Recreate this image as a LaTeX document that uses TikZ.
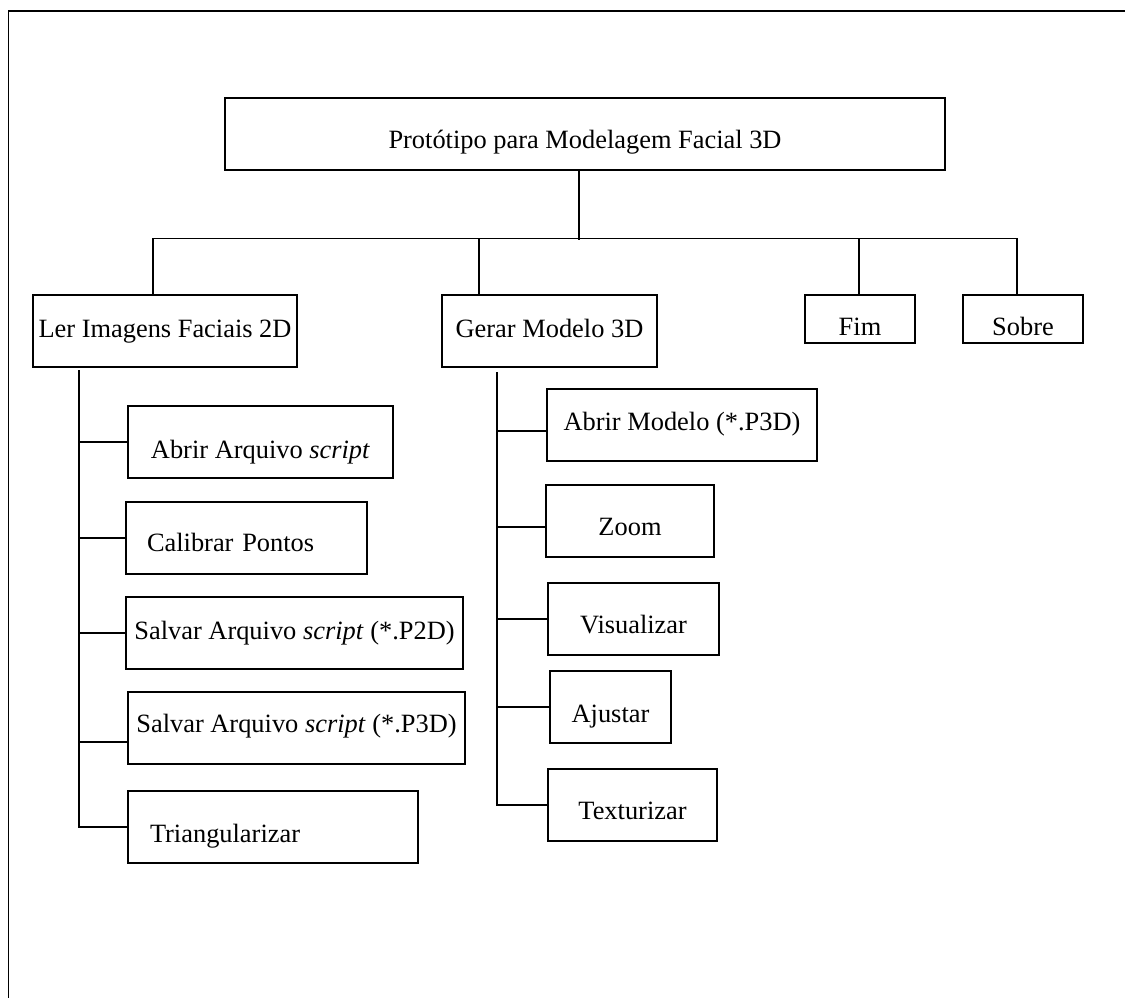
\documentclass[tikz,border=0pt]{standalone}
\usepackage{fontspec}
\setmainfont{Liberation Serif}

\begin{document}
\begin{tikzpicture}
      [x=0.5pt, y=-0.5pt, line width=0.7pt,
       every node/.style={draw, rectangle, inner sep=0pt, minimum height=36pt,
         text height=17.7pt, text depth=3pt, font=\fontsize{13.2}{15}\selectfont}]
      \useasboundingbox (0,0) rectangle (1125,998);
      \draw (1125,11) -| (8.5,998);

      \node [minimum width=360pt] (topo) at (585,134) {Protótipo para Modelagem Facial 3D};
      \node [minimum width=132pt, text height=9.7pt] (ler) at (165,331) {Ler Imagens Faciais 2D};
      \node [minimum width=107.5pt, text height=9.7pt] (gerar) at (549.5,331) {Gerar Modelo 3D};
      \node [minimum width=55pt, minimum height=24pt, text height=19.7pt] (fim) at (860,319) {Fim};
      \node [minimum width=60pt, minimum height=24pt, text height=19.7pt] (sobre) at (1023,319) {Sobre};

      \node [minimum width=132.5pt, text height=19.7pt] (abrirArq) at (260.5,442) {Abrir Arquivo \textit{script}};
      \node [align=left, text width=99.5pt, inner xsep=10.5pt, text height=16.7pt] (calibrar) at (246.5,538) {Calibrar Pontos};
      \node [minimum width=168.5pt, text height=9.7pt] (salvar2d) at (294.5,633) {Salvar Arquivo \textit{script} (*.P2D)};
      \node [minimum width=168.5pt, text height=7.7pt] (salvar3d) at (296.5,728) {Salvar Arquivo \textit{script} (*.P3D)};
      \node [align=left, text width=123pt, inner xsep=11pt, text height=18.7pt] (tri) at (273,827) {Triangularizar};

      \node [minimum width=135pt, text height=8.7pt] (abrirMod) at (682,425) {Abrir Modelo (*.P3D)};
      \node [minimum width=84pt] (zoom) at (630,521) {Zoom};
      \node [minimum width=85.5pt] (vis) at (633.5,619) {Visualizar};
      \node [minimum width=60.5pt, text height=18.7pt] (ajustar) at (610.5,707) {Ajustar};
      \node [minimum width=84.5pt] (textur) at (632.5,805) {Texturizar};

      % barra principal
      \coordinate (barra) at (579,240);
      \coordinate (b1) at (153,238.5);
      \coordinate (b2) at (479,238.5);
      \coordinate (b3) at (859,238.5);
      \coordinate (b4) at (1017,238.5);
      \draw (topo.south -| barra) -- (barra);
      \draw (ler.north -| b1) |- (b4) -- (sobre.north -| b4);
      \draw (b2) -- (gerar.north -| b2);
      \draw (b3) -- (fim.north -| b3);

      % ramo esquerdo
      \coordinate (e0) at (79,370);
      \coordinate (s3) at ([yshift=-7pt]salvar3d.west);
      \draw (e0) |- (tri.west);
      \draw (e0 |- abrirArq.west) -- (abrirArq.west);
      \draw (e0 |- calibrar.west) -- (calibrar.west);
      \draw (e0 |- salvar2d.west) -- (salvar2d.west);
      \draw (e0 |- s3) -- (s3);

      % ramo direito
      \coordinate (d0) at (497,372);
      \coordinate (am) at ([yshift=-3pt]abrirMod.west);
      \coordinate (zm) at ([yshift=-3pt]zoom.west);
      \draw (d0) |- (textur.west);
      \draw (d0 |- am) -- (am);
      \draw (d0 |- zm) -- (zm);
      \draw (d0 |- vis.west) -- (vis.west);
      \draw (d0 |- ajustar.west) -- (ajustar.west);
\end{tikzpicture}
\end{document}
